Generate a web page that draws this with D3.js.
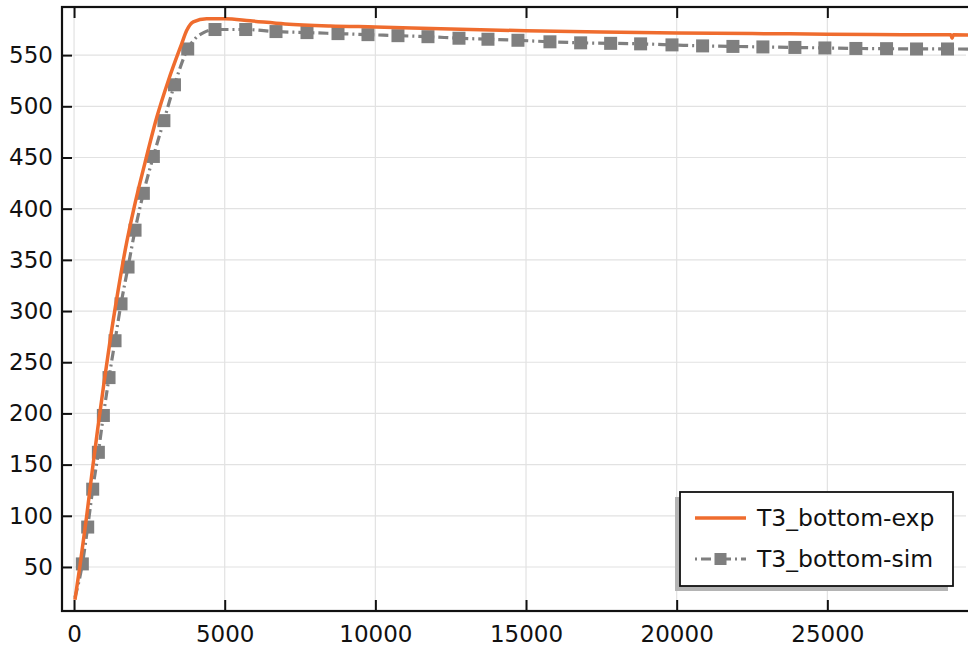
<!DOCTYPE html>
<html>
<head>
<meta charset="utf-8">
<script src="https://cdn.jsdelivr.net/npm/d3@7"></script>
<style>
  html, body { margin: 0; padding: 0; background: #fff; }
  svg { display: block; font-family: "DejaVu Sans", sans-serif; }
</style>
</head>
<body>
<svg id="chart" width="968" height="651"></svg>
<script>
// Measured temperature, T3 bottom
const expTime = [30, 200, 420, 600, 790, 985, 1200, 1450, 1700, 2000, 2356, 2743, 3128, 3571, 3737, 3957, 4400, 5010, 5840, 7000, 8500, 10000, 12500, 15000, 17500, 20000, 22500, 25000, 27500, 29100, 29140, 29180, 29800];
const expTemp = [18, 52, 100, 143, 186, 228, 272, 318, 360, 402, 445, 489, 525, 561, 574, 582.5, 585.5, 585.5, 583.5, 580.5, 578.5, 577.5, 575.5, 573.8, 572.5, 571.5, 571, 570.5, 570, 569.8, 566.5, 569.8, 569.6];

// Simulated temperature, T3 bottom (1 = vertex carries a marker)
const simTime = [30, 275, 453, 619, 807, 973, 1161, 1360, 1559, 1792, 2024, 2300, 2632, 2982, 3333, 3772, 4050, 4300, 4678, 5697, 6702, 7731, 8760, 9755, 10750, 11746, 12775, 13737, 14732, 15794, 16813, 17808, 18803, 19844, 20860, 21866, 22861, 23923, 24918, 25947, 26965, 27960, 28988, 29800];
const simTemp = [20, 53, 89, 126, 162, 198, 235, 271, 307, 343, 379, 415, 451, 486, 521, 556, 567, 572, 575, 575, 573, 572, 571, 570, 569, 568, 566.5, 565.5, 564.5, 563, 562, 561.5, 561, 560, 559, 558.5, 558, 557.5, 557, 556.5, 556.3, 556, 556, 555.8];
const simMarker = [0, 1, 1, 1, 1, 1, 1, 1, 1, 1, 1, 1, 1, 1, 1, 1, 0, 0, 1, 1, 1, 1, 1, 1, 1, 1, 1, 1, 1, 1, 1, 1, 1, 1, 1, 1, 1, 1, 1, 1, 1, 1, 1, 0];

const xTicks = [0, 5000, 10000, 15000, 20000, 25000];
const yTicks = [50, 100, 150, 200, 250, 300, 350, 400, 450, 500, 550];
const seriesNames = ["T3_bottom-exp", "T3_bottom-sim"];

const ORANGE = "#ef6c2e";
const GREY = "#7f7f7f";

const svg = d3.select("#chart");
const pLeft = 62, pRight = 978, pTop = 7, pBottom = 611;

const x = d3.scaleLinear().domain([-400, 30000]).range([pLeft, pRight]);
const y = d3.scaleLinear().domain([7, 597]).range([pBottom, pTop]);

// grid
const grid = svg.append("g").attr("stroke", "#e2e2e2").attr("stroke-width", 1.2);
grid.selectAll(".gx").data(xTicks).join("line")
  .attr("x1", d => x(d)).attr("x2", d => x(d)).attr("y1", pTop).attr("y2", pBottom);
grid.selectAll(".gy").data(yTicks).join("line")
  .attr("x1", pLeft).attr("x2", pRight - 12).attr("y1", d => y(d)).attr("y2", d => y(d));

svg.append("clipPath").attr("id", "plotclip")
  .append("rect").attr("x", pLeft).attr("y", pTop).attr("width", pRight - pLeft).attr("height", pBottom - pTop);

const plot = svg.append("g").attr("clip-path", "url(#plotclip)");

// simulated series: dash-dot line with square markers
const simPts = simTime.map((t, i) => ({ t, v: simTemp[i], m: simMarker[i] }));
plot.append("path").datum(simPts)
  .attr("fill", "none").attr("stroke", GREY).attr("stroke-width", 3.2)
  .attr("stroke-dasharray", "10,4,2,4")
  .attr("d", d3.line().x(d => x(d.t)).y(d => y(d.v)).curve(d3.curveMonotoneX));
const ms = 13;
plot.selectAll(".sq").data(simPts.filter(d => d.m)).join("rect")
  .attr("x", d => x(d.t) - ms / 2).attr("y", d => y(d.v) - ms / 2)
  .attr("width", ms).attr("height", ms).attr("fill", GREY);

// measured series
const expPts = expTime.map((t, i) => ({ t, v: expTemp[i] }));
plot.append("path").datum(expPts)
  .attr("fill", "none").attr("stroke", ORANGE).attr("stroke-width", 3.5)
  .attr("d", d3.line().x(d => x(d.t)).y(d => y(d.v)).curve(d3.curveMonotoneX));

// axes with inward ticks
const axisColor = "#111";
const styleAxis = g => {
  g.select(".domain").remove();
  g.selectAll(".tick line").attr("stroke", axisColor).attr("stroke-width", 2);
  g.selectAll(".tick text").attr("fill", "#111").style("font-size", "23px").style("font-family", "DejaVu Sans, sans-serif");
};
svg.append("g").attr("transform", `translate(0,${pBottom})`)
  .call(d3.axisBottom(x).tickValues(xTicks).tickFormat(d3.format("d")).tickSizeInner(-11).tickPadding(15))
  .call(styleAxis);
svg.append("g").attr("transform", `translate(0,${pTop})`)
  .call(d3.axisTop(x).tickValues(xTicks).tickFormat("").tickSizeInner(-11))
  .call(styleAxis);
svg.append("g").attr("transform", `translate(${pLeft},0)`)
  .call(d3.axisLeft(y).tickValues(yTicks).tickFormat(d3.format("d")).tickSizeInner(-10).tickPadding(9))
  .call(styleAxis);
svg.append("g").attr("transform", `translate(${pRight},0)`)
  .call(d3.axisRight(y).tickValues(yTicks).tickFormat("").tickSizeInner(-10))
  .call(styleAxis);

// frame
svg.append("rect").attr("x", pLeft).attr("y", pTop).attr("width", pRight - pLeft).attr("height", pBottom - pTop)
  .attr("fill", "none").attr("stroke", axisColor).attr("stroke-width", 2.2);

// legend
const lg = svg.append("g");
const bx = 680, by = 492, bw = 273, bh = 94;
lg.append("rect").attr("x", bx - 5).attr("y", by + 5).attr("width", bw).attr("height", bh).attr("fill", "#b4b4b4");
lg.append("rect").attr("x", bx).attr("y", by).attr("width", bw).attr("height", bh)
  .attr("fill", "#fff").attr("stroke", "#111").attr("stroke-width", 1.8);
const rows = [by + 26, by + 67];
lg.append("line").attr("x1", 695).attr("x2", 746).attr("y1", rows[0]).attr("y2", rows[0])
  .attr("stroke", ORANGE).attr("stroke-width", 3.5);
lg.append("line").attr("x1", 695).attr("x2", 746).attr("y1", rows[1]).attr("y2", rows[1])
  .attr("stroke", GREY).attr("stroke-width", 3).attr("stroke-dasharray", "2,4,10,4,2,4,10,4");
lg.append("rect").attr("x", 720.5 - 6).attr("y", rows[1] - 6).attr("width", 12).attr("height", 12).attr("fill", GREY);
lg.selectAll(".lt").data(seriesNames).join("text")
  .attr("x", 757).attr("y", (d, i) => rows[i]).attr("dy", "0.35em")
  .attr("fill", "#111").style("font-size", "23.5px").text(d => d);
</script>
</body>
</html>
